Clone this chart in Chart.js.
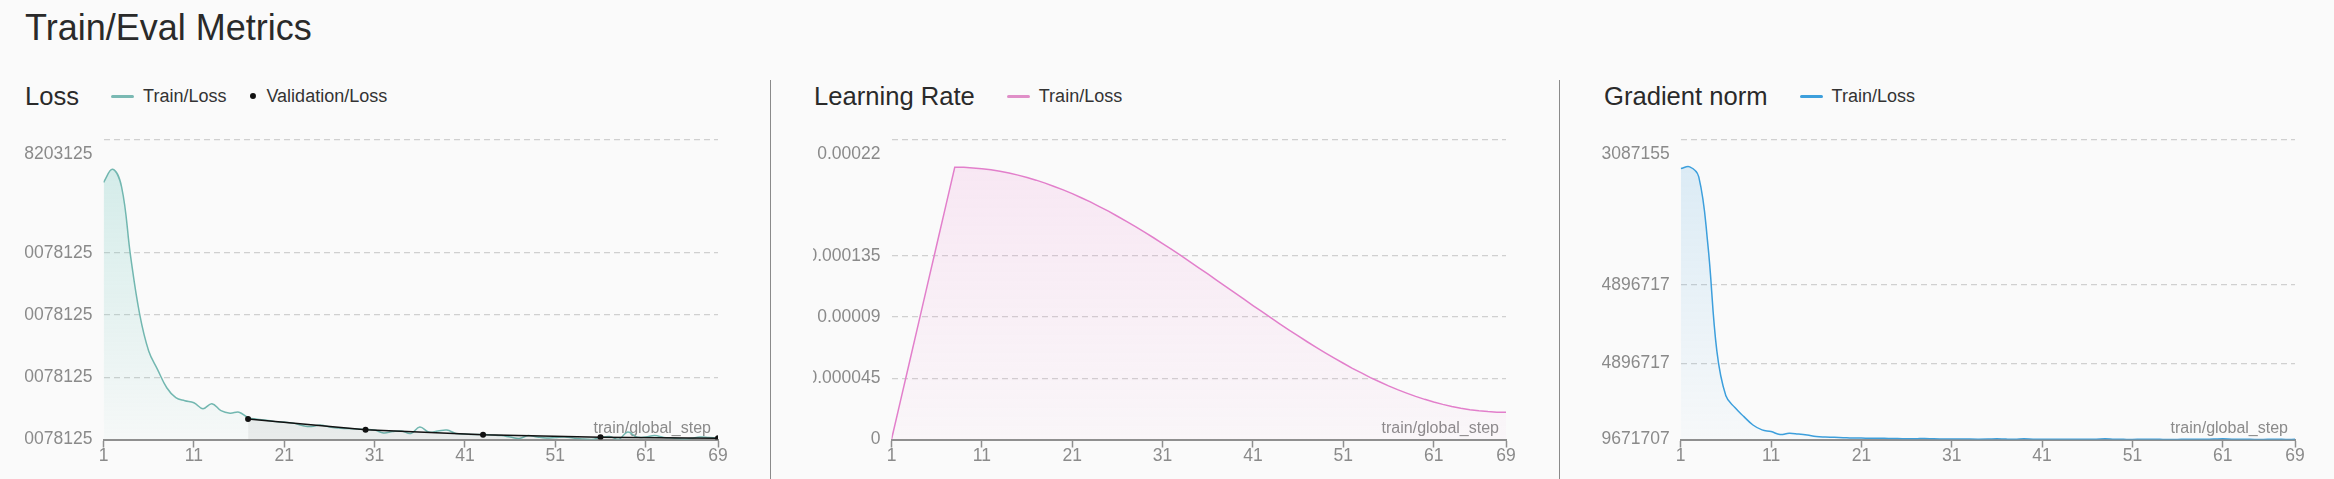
<!DOCTYPE html>
<html>
<head>
<meta charset="utf-8">
<script src="https://cdn.jsdelivr.net/npm/chart.js@4.4.1/dist/chart.umd.min.js"></script>
<style>
  body { margin: 0; width: 2334px; height: 479px; background: #fafafa; font-family: 'Liberation Sans', Arial, sans-serif; position: relative; overflow: hidden; }
  h1 { position: absolute; left: 25px; top: 10px; margin: 0; font-size: 36px; line-height: 36px; font-weight: 400; color: #2a2a2a; }
  .sep { position: absolute; top: 80px; bottom: 0; width: 1px; background: #8a8a8a; }
  .head { position: absolute; top: 80px; height: 32px; display: flex; align-items: center; white-space: nowrap; }
  .head .name { font-size: 25.6px; color: #2a2a2a; margin-right: 32px; }
  .head .item { display: flex; align-items: center; font-size: 18px; color: #333; margin-right: 24px; }
  .swatch { display: block; width: 23px; height: 3px; border-radius: 2px; margin-right: 9px; }
  .dot { display: block; width: 6px; height: 6px; border-radius: 50%; background: #111; margin-right: 10px; }
  .box { position: absolute; top: 101px; }
  canvas { display: block; }
</style>
</head>
<body>
<h1>Train/Eval Metrics</h1>
<div class="sep" style="left:770px"></div>
<div class="sep" style="left:1559px"></div>

<div class="head" style="left:25px">
  <span class="name">Loss</span>
  <span class="item"><i class="swatch" style="background:#7ab9b3"></i>Train/Loss</span>
  <span class="item"><i class="dot"></i>Validation/Loss</span>
</div>
<div class="head" style="left:814px">
  <span class="name">Learning Rate</span>
  <span class="item"><i class="swatch" style="background:#e08fc8"></i>Train/Loss</span>
</div>
<div class="head" style="left:1604px">
  <span class="name">Gradient norm</span>
  <span class="item"><i class="swatch" style="background:#3d9fdc"></i>Train/Loss</span>
</div>

<div class="box" style="left:25px"><canvas id="lossChart" width="705" height="364"></canvas></div>
<div class="box" style="left:813px"><canvas id="lrChart" width="705" height="364"></canvas></div>
<div class="box" style="left:1602px"><canvas id="gradChart" width="705" height="364"></canvas></div>

<script>
const steps = [
  1, 2, 3, 4, 5, 6, 7, 8, 9, 10,
  11, 12, 13, 14, 15, 16, 17, 18, 19, 20,
  21, 22, 23, 24, 25, 26, 27, 28, 29, 30,
  31, 32, 33, 34, 35, 36, 37, 38, 39, 40,
  41, 42, 43, 44, 45, 46, 47, 48, 49, 50,
  51, 52, 53, 54, 55, 56, 57, 58, 59, 60,
  61, 62, 63, 64, 65, 66, 67, 68, 69,
]

const xTicks = [1, 11, 21, 31, 41, 51, 61, 69]

const trainLoss = [
  5.138, 5.349, 5.068, 3.950, 3.022, 2.431, 2.127, 1.839, 1.679, 1.631,
  1.599, 1.503, 1.583, 1.471, 1.431, 1.447, 1.359, 1.335, 1.319, 1.295,
  1.288, 1.271, 1.232, 1.216, 1.240, 1.208, 1.192, 1.184, 1.176, 1.168,
  1.160, 1.112, 1.136, 1.144, 1.104, 1.208, 1.128, 1.144, 1.160, 1.104,
  1.096, 1.088, 1.088, 1.080, 1.072, 1.048, 1.024, 1.072, 1.048, 1.032,
  1.040, 1.048, 1.032, 1.016, 1.008, 1.040, 1.056, 1.008, 1.128, 1.048,
  1.048, 1.072, 1.040, 1.032, 1.016, 1.024, 1.048, 1.040, 1.032,
]

const valSteps = [17, 30, 43, 56, 69]
const valLoss = [1.339, 1.163, 1.083, 1.045, 1.029]

const learningRate = [
  0, 0.0000286, 0.0000571, 0.0000857, 0.0001143, 0.0001429, 0.0001714, 0.0002, 0.0001999, 0.0001995,
  0.0001989, 0.0001981, 0.000197, 0.0001957, 0.0001942, 0.0001925, 0.0001905, 0.0001883, 0.0001859, 0.0001834,
  0.0001806, 0.0001776, 0.0001745, 0.0001711, 0.0001677, 0.000164, 0.0001602, 0.0001563, 0.0001523, 0.0001482,
  0.0001439, 0.0001396, 0.0001352, 0.0001307, 0.0001261, 0.0001216, 0.0001169, 0.0001123, 0.0001077, 0.0001031,
  0.0000984, 0.0000939, 0.0000893, 0.0000848, 0.0000804, 0.0000761, 0.0000718, 0.0000677, 0.0000637, 0.0000598,
  0.000056, 0.0000523, 0.0000489, 0.0000455, 0.0000424, 0.0000394, 0.0000366, 0.0000341, 0.0000317, 0.0000295,
  0.0000275, 0.0000258, 0.0000243, 0.000023, 0.0000219, 0.0000211, 0.0000205, 0.0000201, 0.00002,
]

const gradNorm = [
  5.222, 5.252, 5.075, 3.881, 1.976, 1.175, 0.965, 0.804, 0.655, 0.568,
  0.538, 0.485, 0.507, 0.494, 0.476, 0.450, 0.441, 0.436, 0.429, 0.422,
  0.422, 0.418, 0.420, 0.414, 0.414, 0.410, 0.409, 0.416, 0.408, 0.406,
  0.405, 0.407, 0.404, 0.403, 0.405, 0.410, 0.404, 0.402, 0.409, 0.403,
  0.401, 0.402, 0.400, 0.401, 0.399, 0.400, 0.402, 0.408, 0.400, 0.399,
  0.398, 0.400, 0.401, 0.399, 0.3967, 0.398, 0.400, 0.399, 0.401, 0.404,
  0.409, 0.403, 0.400, 0.399, 0.398, 0.399, 0.400, 0.398, 0.399,
]

const lossTicks = [1.0078125, 2.0078125, 3.0078125, 4.0078125, 5.8203125]
const lrTicks = [0, 0.000045, 0.00009, 0.000135, 0.00022]
const gradTicks = [0.39671707, 1.74896717, 3.14896717, 5.73087155]

Chart.defaults.font.family = "'Liberation Sans', Arial, sans-serif"
Chart.defaults.font.size = 17.5
Chart.defaults.color = '#8a8a8a'

function points( xs, ys ) {
  return xs.map( ( x, i ) => ( { x: x, y: ys[i] } ) )
}

function fade( rgb, top, bottom ) {
  return ( c ) => {
    const area = c.chart.chartArea
    if ( !area ) return `rgba(${rgb},${top})`
    const g = c.chart.ctx.createLinearGradient( 0, area.top, 0, area.bottom )
    g.addColorStop( 0, `rgba(${rgb},${top})` )
    g.addColorStop( 1, `rgba(${rgb},${bottom})` )
    return g
  }
}

// step label sits inside the plot, bottom right
const stepLabel = {
  id: 'stepLabel',
  beforeDatasetsDraw( chart ) {
    const { ctx, chartArea } = chart
    ctx.save()
    ctx.font = "16px 'Liberation Sans', Arial, sans-serif"
    ctx.fillStyle = '#8a8a8a'
    ctx.textAlign = 'right'
    ctx.textBaseline = 'alphabetic'
    ctx.fillText( chart.options.scales.x.title.text, chartArea.right - 7, chartArea.bottom - 7 )
    ctx.restore()
  },
}

function buildOptions( yTicks, yWidth ) {
  const yMax = yTicks[yTicks.length - 1]
  return {
    animation: false,
    responsive: false,
    layout: { padding: { top: 37, right: 12, bottom: 0, left: 0 } },
    plugins: { legend: { display: false }, tooltip: { enabled: false } },
    scales: {
      x: {
        type: 'linear',
        min: 1,
        max: 69,
        title: { display: false, text: 'train/global_step' },
        afterBuildTicks: ( s ) => { s.ticks = xTicks.map( ( v ) => ( { value: v } ) ) },
        ticks: {
          padding: 0,
          autoSkip: false,
          maxRotation: 0,
          font: { size: 17.5, lineHeight: 1 },
          callback: ( v ) => String( v ),
        },
        grid: { drawOnChartArea: false, drawTicks: true, tickLength: 8, tickColor: '#8f8f8f', tickWidth: 1.5 },
        border: { display: true, color: '#8f8f8f', width: 2 },
      },
      y: {
        type: 'linear',
        min: yTicks[0],
        max: yMax,
        afterBuildTicks: ( s ) => { s.ticks = yTicks.map( ( v ) => ( { value: v } ) ) },
        afterFit: ( s ) => { s.width = yWidth },
        ticks: {
          padding: 11,
          autoSkip: false,
          font: ( c ) => ( c.tick && c.tick.value === yMax ? { size: 17.5, lineHeight: '28px' } : { size: 17.5 } ),
          callback: ( v ) => ( v === yMax ? ['', String( v )] : String( v ) ),
        },
        grid: {
          drawTicks: false,
          lineWidth: 1.2,
          color: ( c ) => ( c.index === 0 ? 'rgba(0,0,0,0)' : '#d0d0d0' ),
        },
        border: { display: false, dash: [6, 4] },
      },
    },
  }
}

new Chart( document.getElementById( 'lossChart' ), {
  type: 'line',
  data: {
    datasets: [
      {
        label: 'Validation/Loss',
        order: -1,
        data: points( valSteps, valLoss ),
        borderColor: '#111',
        borderWidth: 1.5,
        pointRadius: 3,
        pointBackgroundColor: '#111',
        pointBorderWidth: 0,
        fill: 'start',
        backgroundColor: 'rgba(0,0,0,0.05)',
      },
      {
        label: 'Train/Loss',
        data: points( steps, trainLoss ),
        borderColor: '#72b7b0',
        borderWidth: 1.5,
        pointRadius: 0,
        tension: 0.4,
        fill: 'start',
        backgroundColor: fade( '114,200,190', 0.3, 0.03 ),
      },
    ],
  },
  options: buildOptions( lossTicks, 78.5 ),
  plugins: [stepLabel],
} )

new Chart( document.getElementById( 'lrChart' ), {
  type: 'line',
  data: {
    datasets: [
      {
        label: 'Train/Loss',
        data: points( steps, learningRate ),
        borderColor: '#e27fcb',
        borderWidth: 1.5,
        pointRadius: 0,
        tension: 0,
        fill: 'start',
        backgroundColor: fade( '240,130,210', 0.16, 0.03 ),
      },
    ],
  },
  options: buildOptions( lrTicks, 78.5 ),
  plugins: [stepLabel],
} )

new Chart( document.getElementById( 'gradChart' ), {
  type: 'line',
  data: {
    datasets: [
      {
        label: 'Train/Loss',
        data: points( steps, gradNorm ),
        borderColor: '#3d9fdc',
        borderWidth: 1.5,
        pointRadius: 0,
        tension: 0.4,
        fill: 'start',
        backgroundColor: fade( '70,165,225', 0.18, 0.02 ),
      },
    ],
  },
  options: buildOptions( gradTicks, 78.7 ),
  plugins: [stepLabel],
} )
</script>
</body>
</html>
